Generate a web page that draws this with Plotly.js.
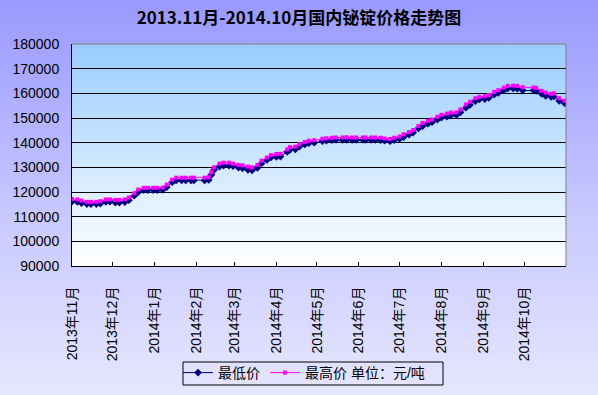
<!DOCTYPE html>
<html>
<head>
<meta charset="utf-8">
<script src="https://cdn.plot.ly/plotly-3.0.1.min.js"></script>
<style>
  html, body { margin: 0; padding: 0; }
  body { width: 598px; height: 395px; overflow: hidden;
         background: linear-gradient(to bottom, #9999FF 0%, #C9C9FF 55%, #E6E6FF 100%); }
  #chart { width: 598px; height: 395px; }
</style>
</head>
<body>
<div id="chart"></div>
<script>
// ---- data (yuan/ton) ----
const dates = [
  '2013-11-01','2013-11-05','2013-11-08','2013-11-12','2013-11-15','2013-11-19','2013-11-22','2013-11-26','2013-11-29',
  '2013-12-03','2013-12-06','2013-12-10','2013-12-13','2013-12-17','2013-12-20','2013-12-24','2013-12-27','2013-12-31',
  '2014-01-03','2014-01-07','2014-01-10','2014-01-14','2014-01-17','2014-01-21','2014-01-24','2014-01-28','2014-01-30',
  '2014-02-07','2014-02-10','2014-02-12','2014-02-14','2014-02-18','2014-02-21','2014-02-25','2014-02-28',
  '2014-03-04','2014-03-07','2014-03-11','2014-03-14','2014-03-18','2014-03-21','2014-03-25','2014-03-28',
  '2014-04-01','2014-04-04','2014-04-09','2014-04-11','2014-04-15','2014-04-18','2014-04-22','2014-04-25','2014-04-29',
  '2014-05-05','2014-05-08','2014-05-12','2014-05-15','2014-05-20','2014-05-23','2014-05-27','2014-05-30',
  '2014-06-04','2014-06-06','2014-06-10','2014-06-13','2014-06-17','2014-06-20','2014-06-24','2014-06-27',
  '2014-07-01','2014-07-04','2014-07-08','2014-07-11','2014-07-15','2014-07-18','2014-07-22','2014-07-25','2014-07-29',
  '2014-08-01','2014-08-05','2014-08-08','2014-08-12','2014-08-15','2014-08-19','2014-08-22','2014-08-26','2014-08-29',
  '2014-09-02','2014-09-05','2014-09-09','2014-09-12','2014-09-16','2014-09-19','2014-09-23','2014-09-26','2014-09-30',
  '2014-10-08','2014-10-10','2014-10-14','2014-10-17','2014-10-21','2014-10-23','2014-10-27','2014-10-31'
];
const highPrices = [
  117200,117000,116500,116000,116000,116000,116300,117000,117000,
  116800,116800,117000,117800,119500,121000,121700,121700,121700,
  121700,121800,123000,125000,125800,125800,125800,125800,125800,
  125800,126000,128000,130000,131500,131900,131900,131500,
  131000,130800,130300,130000,131000,132700,134000,135000,
  135400,135500,137300,138200,138400,139400,140300,140800,141000,
  141600,141800,142000,142100,142100,142200,142100,142100,
  142100,142100,142100,142100,142000,141700,141500,142000,
  142500,143400,144300,145100,146800,148000,148800,149400,150500,
  151300,151800,152200,152300,153500,155500,156600,158000,158600,
  158800,159300,160600,161300,162300,163000,163100,163000,162500,
  162400,162200,161000,160300,159800,160000,158000,157000
];
const lowPrices = [
  116100,116000,115500,115100,115100,115100,115300,116000,116100,
  115700,115700,115900,116700,118500,120000,120800,120800,120800,
  120800,120900,122000,124000,124700,124700,124700,124700,124700,
  124700,124900,127000,129000,130300,130700,130700,130500,
  129900,129600,129000,128800,129800,131600,133000,134000,
  134300,134400,136300,137100,137300,138400,139300,139800,140000,
  140600,140800,141000,141100,141100,141100,141100,141100,
  141100,141100,141100,141100,141000,140800,140600,141000,
  141500,142300,143300,144100,145800,146700,147700,148300,149400,
  150200,150600,151100,151200,152300,154200,155300,156900,157600,
  157700,158200,159500,160200,161200,162000,162000,161900,161200,
  161200,161000,159800,159000,158600,158800,157000,156000
];
const tickDates = ['2013-11-01','2013-12-01','2014-01-01','2014-02-01','2014-03-01','2014-04-01',
  '2014-05-01','2014-06-01','2014-07-01','2014-08-01','2014-09-01','2014-10-01'];
const tickLabels = ['2013年11月','2013年12月','2014年1月','2014年2月','2014年3月','2014年4月',
  '2014年5月','2014年6月','2014年7月','2014年8月','2014年9月','2014年10月'];
const yTicks = [90000,100000,110000,120000,130000,140000,150000,160000,170000,180000];

const FONT = 'Liberation Sans, Arial, Noto Sans CJK SC, sans-serif';

const traces = [
  { x: dates, y: lowPrices, name: '最低价', type: 'scatter', mode: 'lines+markers',
    line: { color: '#000080', width: 1 },
    marker: { symbol: 'diamond', size: 6, color: '#000080' } },
  { x: dates, y: highPrices, name: '最高价 单位：元/吨', type: 'scatter', mode: 'lines+markers',
    line: { color: '#FF00FF', width: 1 },
    marker: { symbol: 'square', size: 4, color: '#FF00FF' } }
];

const gradSvg = '<svg xmlns="http://www.w3.org/2000/svg" width="10" height="100" preserveAspectRatio="none">' +
  '<defs><linearGradient id="g" x1="0" y1="0" x2="0" y2="1">' +
  '<stop offset="0" stop-color="#99CCFF"/><stop offset="1" stop-color="#FFFFFF"/>' +
  '</linearGradient></defs><rect width="10" height="100" fill="url(#g)"/></svg>';

const px2x = p => (p - 72) / 494;
const px2y = p => (266 - p) / 222;

const layout = {
  width: 598, height: 395,
  margin: { l: 72, r: 32, t: 44, b: 129, autoexpand: false },
  paper_bgcolor: 'rgba(0,0,0,0)',
  plot_bgcolor: 'rgba(0,0,0,0)',
  font: { family: FONT, size: 14, color: '#000' },
  title: { text: '2013.11月-2014.10月国内铋锭价格走势图',
           font: { family: 'Noto Sans CJK SC, sans-serif', size: 17, color: '#000', weight: 'bold' },
           x: 0.5, xref: 'container', y: 1 - 18/395, yref: 'container', yanchor: 'middle' },
  xaxis: {
    type: 'date', range: ['2013-11-01', '2014-11-01'], automargin: false,
    tickmode: 'array', tickvals: tickDates, ticktext: tickLabels,
    tickangle: -90, ticks: 'inside', ticklen: 4, tickcolor: '#000',
    showline: true, linecolor: '#000', linewidth: 1,
    showgrid: false, zeroline: false,
    ticklabelstandoff: 14,
    tickfont: { family: FONT, size: 14, color: '#000' }
  },
  yaxis: {
    range: [90000, 180000], tickmode: 'array', tickvals: yTicks, tickformat: 'd', automargin: false,
    showline: true, linecolor: '#000', linewidth: 1,
    showgrid: true, gridcolor: '#000', gridwidth: 1, zeroline: false,
    ticks: '', ticklabelstandoff: 9,
    tickfont: { family: FONT, size: 14, color: '#000' }
  },
  showlegend: true,
  legend: {
    orientation: 'h', x: px2x(178), xanchor: 'left', y: px2y(357), yanchor: 'top',
    bgcolor: 'rgba(0,0,0,0)', borderwidth: 0,
    font: { family: FONT, size: 14, color: '#000' },
    itemwidth: 30, tracegroupgap: 0
  },
  images: [{
    source: 'data:image/svg+xml;charset=utf-8,' + encodeURIComponent(gradSvg),
    xref: 'paper', yref: 'paper', x: 0, y: 1, sizex: 1, sizey: 1,
    xanchor: 'left', yanchor: 'top', sizing: 'stretch', layer: 'below'
  }],
  shapes: [
    { type: 'line', xref: 'paper', yref: 'paper', x0: 0, x1: 1, y0: 1, y1: 1,
      line: { color: '#808080', width: 1 } },
    { type: 'line', xref: 'paper', yref: 'paper', x0: 1, x1: 1, y0: 0, y1: 1,
      line: { color: '#808080', width: 1 } },
    { type: 'rect', xref: 'paper', yref: 'paper',
      x0: px2x(183), x1: px2x(443), y0: px2y(362), y1: px2y(385),
      line: { color: '#000', width: 1 }, fillcolor: 'rgba(0,0,0,0)' }
  ]
};

Plotly.newPlot('chart', traces, layout, { displayModeBar: false, staticPlot: true });
</script>
</body>
</html>
